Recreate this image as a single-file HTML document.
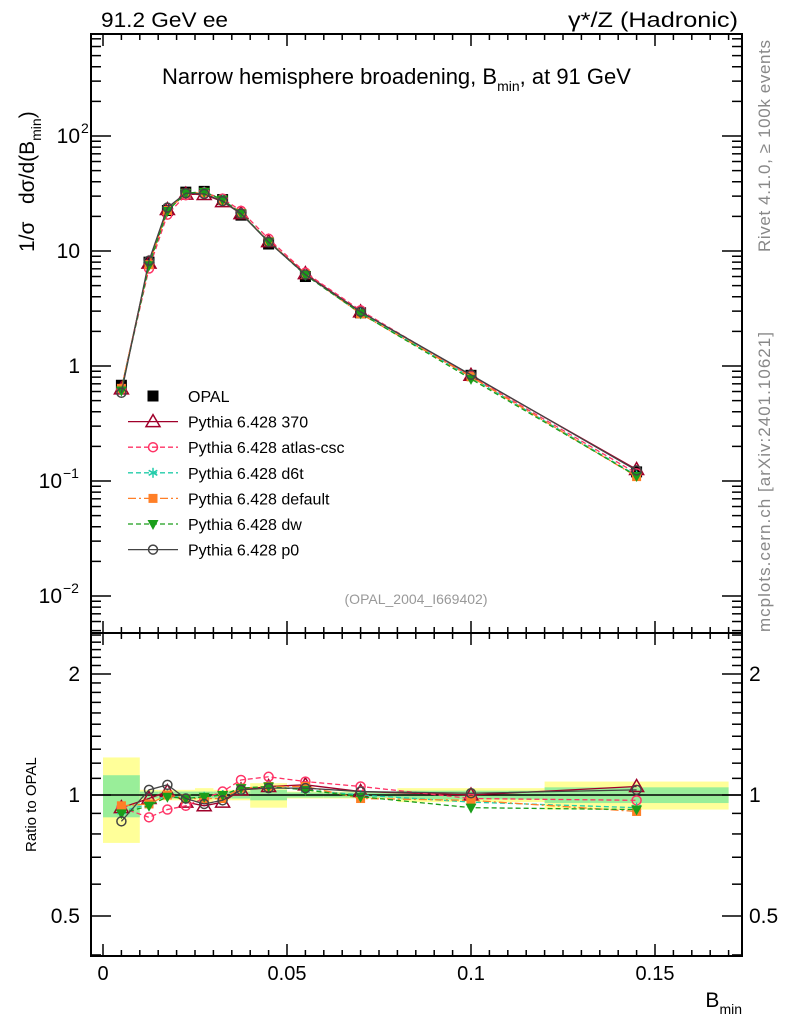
<!DOCTYPE html>
<html><head><meta charset="utf-8"><style>
body{margin:0;background:#fff}
svg{display:block;font-family:"Liberation Sans",Arial,sans-serif}
</style></head><body>
<svg id="c" width="786" height="1024" viewBox="0 0 786 1024">
<g id="bands"></g>
<g id="axes"></g>
<g id="series"></g>
<g id="legend"></g>
<text x="101" y="27" font-size="21" textLength="127" lengthAdjust="spacingAndGlyphs">91.2 GeV ee</text>
<text x="568" y="27" font-size="21" textLength="170" lengthAdjust="spacingAndGlyphs">γ*/Z (Hadronic)</text>
<text x="162" y="84" font-size="22">Narrow hemisphere broadening, B<tspan font-size="14" dy="7">min</tspan><tspan dy="-7">, at 91 GeV</tspan></text>
<text x="416" y="604" font-size="14" fill="#999" text-anchor="middle">(OPAL_2004_I669402)</text>
<text transform="translate(770,252) rotate(-90)" font-size="17" fill="#888" textLength="212">Rivet 4.1.0, ≥ 100k events</text>
<text transform="translate(770,632) rotate(-90)" font-size="17" fill="#888" textLength="300">mcplots.cern.ch [arXiv:2401.10621]</text>
<text transform="translate(34,252) rotate(-90)" font-size="21" xml:space="preserve">1/σ   dσ/d(B<tspan font-size="14" dy="7">min</tspan><tspan dy="-7">)</tspan></text>
<text transform="translate(36,852) rotate(-90)" font-size="15">Ratio to OPAL</text>
<text x="742" y="1007" font-size="21" text-anchor="end">B<tspan font-size="14" dy="7">min</tspan></text>
</svg>
<script>
const xCenters=[0.005,0.0125,0.0175,0.0225,0.0275,0.0325,0.0375,0.045,0.055,0.07,0.1,0.145];
const binEdges=[0,0.01,0.015,0.02,0.025,0.03,0.035,0.04,0.05,0.06,0.08,0.12,0.17];
const opal=[0.68,8.0,22.5,32.5,33,28,20.5,11.5,6.0,2.9,0.83,0.12];
const bandYellow=[0.24,0.03,0.03,0.03,0.04,0.03,0.03,0.07,0.02,0.02,0.04,0.08];
const bandGreen=[0.12,0.02,0.02,0.02,0.02,0.02,0.02,0.03,0.015,0.015,0.025,0.045];
const r370=[0.93,0.98,1.02,0.96,0.94,0.96,1.03,1.05,1.06,1.02,1.0,1.05];
const rAtlas=[0.93,0.88,0.92,0.94,0.98,1.02,1.09,1.11,1.08,1.05,0.98,0.97];
const rD6t=[0.91,0.95,1.0,0.98,0.99,1.0,1.04,1.05,1.03,1.0,0.96,0.93];
const rDefault=[0.94,0.95,1.0,0.98,0.98,0.98,1.04,1.05,1.05,0.98,0.97,0.91];
const rDw=[0.9,0.94,0.99,0.98,0.99,1.0,1.04,1.05,1.03,0.99,0.93,0.92];
const rP0=[0.86,1.03,1.06,0.98,0.95,0.97,1.03,1.04,1.04,1.02,1.01,1.03];
const xTicks=[0,0.05,0.1,0.15];
const xTickLabels=["0","0.05","0.1","0.15"];

const NS="http://www.w3.org/2000/svg";
const L=91,R=742,T=34,MB=633,RB=956;
const X=v=>103+v*3680;
const Y=v=>136-(Math.log10(v)-2)*115;
const YR=v=>795-Math.log2(v)*121;
function mk(p,tag,a){const e=document.createElementNS(NS,tag);for(const k in a)e.setAttribute(k,a[k]);p.appendChild(e);return e;}
const axes=document.getElementById('axes'),bands=document.getElementById('bands'),ser=document.getElementById('series'),leg=document.getElementById('legend');

for(let i=0;i<opal.length;i++){
  const x0=X(binEdges[i]),x1=X(binEdges[i+1]);
  let r=mk(bands,'rect',{x:x0,y:YR(1+bandYellow[i]),width:x1-x0,height:YR(1-bandYellow[i])-YR(1+bandYellow[i]),fill:'#ffff99'});
  
  
  r=mk(bands,'rect',{x:x0,y:YR(1+bandGreen[i]),width:x1-x0,height:YR(1-bandGreen[i])-YR(1+bandGreen[i]),fill:'#99ee99'});
  
  
}

let f=mk(axes,'rect',{x:L,y:T,width:R-L,height:MB-T,fill:'none',stroke:'#000','stroke-width':2});


f=mk(axes,'rect',{x:L,y:MB,width:R-L,height:RB-MB,fill:'none',stroke:'#000','stroke-width':2});


mk(axes,'line',{x1:L,x2:R,y1:YR(1),y2:YR(1),stroke:'#000','stroke-width':1.5});

for(let k=0;k<=34;k++){const v=k*0.005,x=X(v);if(x>R)break;const maj=k%10==0;const len=maj?12:6;
  for(const [yb,dir] of [[T,1],[MB,-1],[MB,1],[RB,-1]]) mk(axes,'line',{x1:x,x2:x,y1:yb,y2:yb+dir*len,stroke:'#000','stroke-width':1.5});}
xTicks.forEach((v,i)=>{const t=mk(axes,'text',{x:X(v),y:980,'font-size':20,'text-anchor':'middle'});t.textContent=xTickLabels[i];
  
  });

for(let d=-3;d<=2;d++)for(let m=1;m<=9;m++){const v=m*Math.pow(10,d),y=Y(v);if(y<T||y>MB)continue;const len=m==1?20:10;
  mk(axes,'line',{x1:L,x2:L+len,y1:y,y2:y,stroke:'#000','stroke-width':1.5});
  mk(axes,'line',{x1:R,x2:R-len,y1:y,y2:y,stroke:'#000','stroke-width':1.5});}
const yLab=[[100,'10','2'],[10,'10',''],[1,'1',''],[0.1,'10','−1'],[0.01,'10','−2']];
yLab.forEach(([v,b,e])=>{
  const end=e?(e.length>1?62:80):80;
  const t=mk(axes,'text',{x:end,y:Y(v)+7,'font-size':21,'text-anchor':'end'});t.textContent=b;
  
  
  if(e){const s=mk(axes,'text',{x:end+1,y:Y(v)-3,'font-size':14});s.textContent=e;}
});

const rt=[0.4,0.5,0.6,0.7,0.8,0.9,1,1.1,1.2,1.3,1.4,1.5,1.6,1.7,1.8,1.9,2,2.1,2.2,2.3,2.4,2.5];
rt.forEach(v=>{const y=YR(v);if(y<MB||y>RB)return;const maj=(v==0.5||v==1||v==2);const len=maj?20:10;
  mk(axes,'line',{x1:L,x2:L+len,y1:y,y2:y,stroke:'#000','stroke-width':1.5});
  mk(axes,'line',{x1:R,x2:R-len,y1:y,y2:y,stroke:'#000','stroke-width':1.5});
  if(maj){const s=String(v);let t=mk(axes,'text',{x:80,y:y+7,'font-size':21,'text-anchor':'end'});t.textContent=s;
    t=mk(axes,'text',{x:749,y:y+7,'font-size':21});t.textContent=s;}});

function marker(g,type,x,y,col){
  const s=5.5;
  if(type=='sq') return mk(g,'rect',{x:x-s,y:y-s,width:2*s,height:2*s,fill:col});
  if(type=='fsq') return mk(g,'rect',{x:x-4.5,y:y-4.5,width:9,height:9,fill:col});
  if(type=='tri') return mk(g,'polygon',{points:`${x},${y-7} ${x-7},${y+5} ${x+7},${y+5}`,fill:'none',stroke:col,'stroke-width':1.5});
  if(type=='oc') return mk(g,'circle',{cx:x,cy:y,r:4.5,fill:'none',stroke:col,'stroke-width':1.5});
  if(type=='dtri') return mk(g,'polygon',{points:`${x},${y+6} ${x-5.5},${y-4} ${x+5.5},${y-4}`,fill:col});
  if(type=='star'){const gg=mk(g,'g',{stroke:col,'stroke-width':1.5});
    for(const a of [0,60,120]){const r=a*Math.PI/180;mk(gg,'line',{x1:x-5*Math.sin(r),y1:y-5*Math.cos(r),x2:x+5*Math.sin(r),y2:y+5*Math.cos(r)});}return gg;}
}
const mcs=[
 {name:'Pythia 6.428 370',r:r370,col:'#a0002a',dash:'',m:'tri',id:'370'},
 {name:'Pythia 6.428 atlas-csc',r:rAtlas,col:'#ff3366',dash:'5,3',m:'oc',id:'atlas-csc'},
 {name:'Pythia 6.428 d6t',r:rD6t,col:'#22ccaa',dash:'5,3',m:'star',id:'d6t'},
 {name:'Pythia 6.428 default',r:rDefault,col:'#ff7f27',dash:'8,3,2,3',m:'fsq',id:'default'},
 {name:'Pythia 6.428 dw',r:rDw,col:'#1a9e1a',dash:'5,3',m:'dtri',id:'dw'},
 {name:'Pythia 6.428 p0',r:rP0,col:'#444444',dash:'',m:'oc',id:'p0'}];

const dg=mk(ser,'g',{});


opal.forEach((v,i)=>{marker(dg,'sq',X(xCenters[i]),Y(v),'#000');});
mcs.forEach(s=>{
  const g=mk(ser,'g',{});
  
  
  const pm=xCenters.map((x,i)=>X(x)+','+Y(opal[i]*s.r[i])).join(' ');
  const pr=xCenters.map((x,i)=>X(x)+','+YR(s.r[i])).join(' ');
  mk(g,'polyline',{points:pm,fill:'none',stroke:s.col,'stroke-width':1.3,'stroke-dasharray':s.dash});
  mk(g,'polyline',{points:pr,fill:'none',stroke:s.col,'stroke-width':1.3,'stroke-dasharray':s.dash});
  xCenters.forEach((x,i)=>{marker(g,s.m,X(x),Y(opal[i]*s.r[i]),s.col);marker(g,s.m,X(x),YR(s.r[i]),s.col);});
});

const ly0=396,dy=25.6;
let e=mk(leg,'g',{});


marker(e,'sq',153,ly0,'#000');
let t=mk(e,'text',{x:188,y:ly0+6,'font-size':16});t.textContent='OPAL';
mcs.forEach((s,i)=>{const y=ly0+dy*(i+1);
  const g=mk(leg,'g',{});
  
  
  mk(g,'line',{x1:128,x2:178,y1:y,y2:y,stroke:s.col,'stroke-width':1.3,'stroke-dasharray':s.dash});
  marker(g,s.m,153,y,s.col);
  const tt=mk(g,'text',{x:188,y:y+6,'font-size':16});tt.textContent=s.name;});
</script>
</body></html>
